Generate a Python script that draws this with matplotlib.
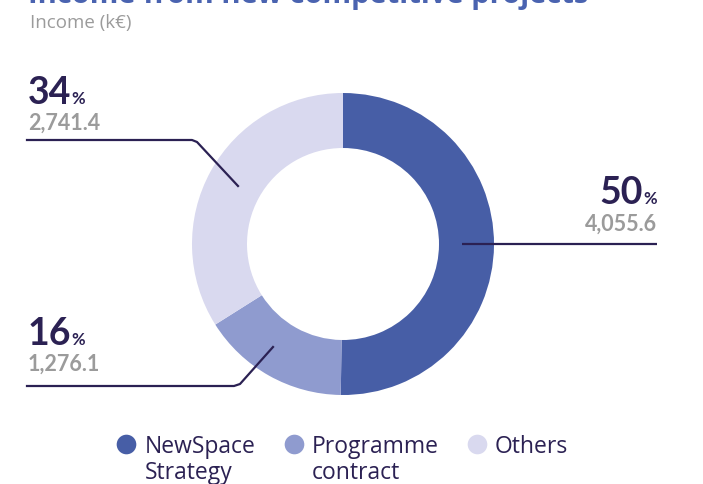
import matplotlib.pyplot as plt

labels = ['NewSpace\nStrategy', 'Programme\ncontract', 'Others']
values = [4055.6, 1276.1, 2741.4]
percents = ['50', '16', '34']
amounts = ['4,055.6', '1,276.1', '2,741.4']
colors = ['#475ea6', '#8f9bcf', '#d9d9ef']

DARK = '#2b2153'
GREY = '#9b9b9b'
H = 485


def y(p):
	# pixel row (from top) -> data y
	return H - p


def big_label(ax, x, base, pct, amount, amount_base, align='left'):
	r = ax.figure.canvas.get_renderer()
	if align == 'left':
		t = ax.text(x, y(base), pct, fontsize=27, fontweight='bold', color=DARK,
			family='Lato', ha='left', va='baseline')
		bb = t.get_window_extent(r)
		ax.text(bb.x1, y(base), '%', fontsize=12, fontweight='bold', color=DARK,
			family='Lato', ha='left', va='baseline')
	else:
		t = ax.text(x, y(base), '%', fontsize=12, fontweight='bold', color=DARK,
			family='Lato', ha='right', va='baseline')
		bb = t.get_window_extent(r)
		ax.text(bb.x0, y(base), pct, fontsize=27, fontweight='bold', color=DARK,
			family='Lato', ha='right', va='baseline')
	ax.text(x, y(amount_base), amount, fontsize=15.5, fontweight='bold', color=GREY,
		family='Lato', ha=align, va='baseline')


fig = plt.figure(figsize=(7.03, 4.85), dpi=100)
ax = fig.add_axes([0, 0, 1, 1])
ax.set_xlim(0, 703)
ax.set_ylim(0, H)
ax.set_aspect('equal')
ax.axis('off')

ax.pie(values, colors=colors, startangle=90, counterclock=False,
	center=(343, y(245)), radius=151, wedgeprops=dict(width=55, linewidth=0))
ax.set_xlim(0, 703)
ax.set_ylim(0, H)

# title (cropped at the top) and subtitle
ax.text(28, y(3), 'Income from new competitive projects', fontsize=21, fontweight='bold',
	color='#4a63b0', family='Open Sans', ha='left', va='baseline')
ax.text(30, y(28), 'Income (k€)', fontsize=13.5, color=GREY, family='Open Sans',
	ha='left', va='baseline')

# leader lines
lw = 1.6
ax.plot([462, 657], [y(245), y(245)], color=DARK, lw=lw, solid_capstyle='butt')
ax.plot([238, 197, 192, 27], [y(187), y(143), y(141), y(141)], color=DARK, lw=lw,
	solid_joinstyle='round')
ax.plot([273, 240, 234, 27], [y(348), y(385), y(387), y(387)], color=DARK, lw=lw,
	solid_joinstyle='round')

big_label(ax, 657, 204, percents[0], amounts[0], 231, align='right')
big_label(ax, 28, 345, percents[1], amounts[1], 371)
big_label(ax, 28, 104, percents[2], amounts[2], 130)

# legend
mark_x = [126, 294, 477]
text_x = [145, 312, 495]
for mx, tx, lab, c in zip(mark_x, text_x, labels, colors):
	ax.scatter([mx], [y(445)], s=200, color=c, zorder=3, linewidths=0)
	for i, line in enumerate(lab.split('\n')):
		ax.text(tx, y(453 + 26 * i), line, fontsize=16.5, color=DARK, family='Open Sans',
			ha='left', va='baseline')

fig.savefig('out.png', dpi=100)
